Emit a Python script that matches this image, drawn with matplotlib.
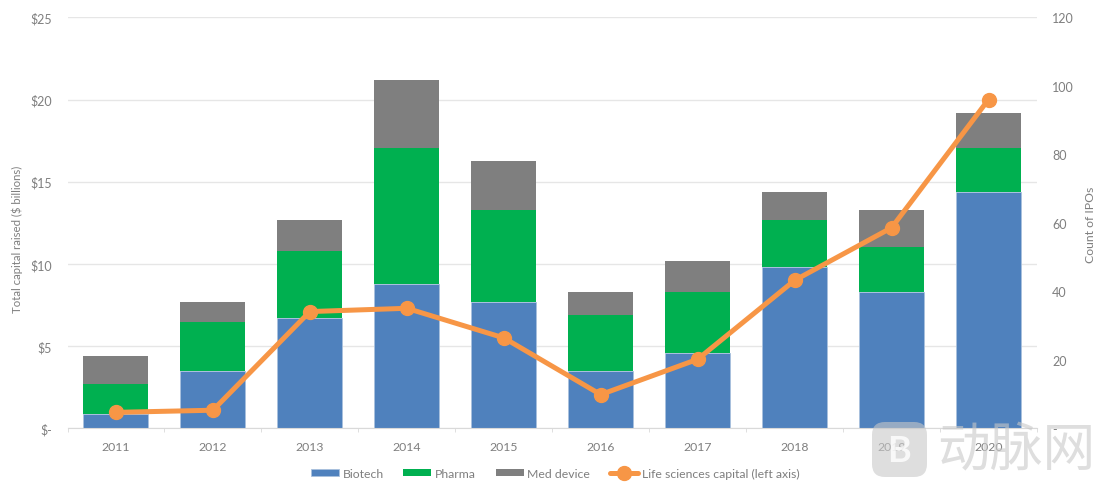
# Life sciences IPO capital, stacked bars with line overlay
import matplotlib.pyplot as plt
from matplotlib.patches import FancyBboxPatch

plt.rcParams['font.family'] = ['Lato', 'DejaVu Sans']

years = ['2011', '2012', '2013', '2014', '2015', '2016', '2017', '2018', '2019', '2020']
biotech = [0.85, 3.5, 6.7, 8.75, 7.7, 3.5, 4.6, 9.8, 8.3, 14.35]
pharma = [1.85, 2.95, 4.1, 8.3, 5.6, 3.4, 3.7, 2.85, 2.7, 2.7]
med_device = [1.7, 1.25, 1.85, 4.15, 2.95, 1.4, 1.9, 1.7, 2.3, 2.1]
capital = [0.97, 1.1, 7.1, 7.3, 5.5, 2.05, 4.2, 9.0, 12.2, 20.0]

left_ticks = [0, 5, 10, 15, 20, 25]
left_labels = ['$-', '$5', '$10', '$15', '$20', '$25']
right_ticks = [0, 20, 40, 60, 80, 100, 120]
right_labels = ['-', '20', '40', '60', '80', '100', '120']

W, H = 1101, 489
text_col = '#7f7f7f'

fig = plt.figure(figsize=(W/100, H/100), dpi=100)
ax = fig.add_axes([67.5/W, 1-429.3/H, (1037-67.5)/W, (429.3-18.3)/H])
x = list(range(len(years)))

bottom2 = [b for b in biotech]
bottom3 = [b+p for b, p in zip(biotech, pharma)]
edge = dict(edgecolor='#a9c1de', linewidth=0.6)
ax.bar(x, biotech, 0.67, color='#4f81bd', label='Biotech', zorder=2, **edge)
ax.bar(x, pharma, 0.67, bottom=bottom2, color='#00b050', label='Pharma', zorder=2)
ax.bar(x, med_device, 0.67, bottom=bottom3, color='#7f7f7f', label='Med device', zorder=2)
ax.plot(x, capital, color='#f79646', lw=3.6, marker='o', ms=10, zorder=3,
        label='Life sciences capital (left axis)', solid_capstyle='round')

ax.set_xlim(-0.5, 9.5)
ax.set_ylim(0, 25)
ax.set_yticks(left_ticks, left_labels)
ax.set_xticks(x, years)
ax.set_xticks([i-0.5 for i in range(11)], minor=True)
ax.grid(axis='y', color='#e6e6e6', lw=1, zorder=0)
ax.set_axisbelow(True)
for s in ['top', 'left', 'right']:
    ax.spines[s].set_visible(False)
ax.spines['bottom'].set_color('#d9d9d9')
ax.tick_params(axis='y', length=0, labelsize=9, labelcolor=text_col, pad=11)
ax.tick_params(axis='x', which='major', length=0, labelsize=8.8, labelcolor=text_col, pad=9.5)
ax.tick_params(axis='x', which='minor', length=3, color='#d9d9d9')
ax.set_ylabel('Total capital raised ($ billions)', fontsize=8.2, color=text_col)
ax.yaxis.set_label_coords((23-67.5)/(1037-67.5), 0.5-(239-223.8)/411)

ax2 = ax.twinx()
ax2.set_ylim(0, 120)
ax2.set_yticks(right_ticks, right_labels)
for s in ax2.spines.values():
    s.set_visible(False)
ax2.tick_params(axis='y', length=0, labelsize=9, labelcolor=text_col, pad=11)
ax2.set_ylabel('Count of IPOs', fontsize=8.8, color=text_col)
ax2.yaxis.set_label_coords((1085-67.5)/(1037-67.5), 0.5-(225-223.8)/411)

# bars first, then the line, same order as the original legend
handles, labels = ax.get_legend_handles_labels()
order = [labels.index(n) for n in ['Biotech', 'Pharma', 'Med device', 'Life sciences capital (left axis)']]
fig.legend([handles[i] for i in order], [labels[i] for i in order], loc='center',
           bbox_to_anchor=(555/W, 1-474/H), ncol=4, frameon=False, fontsize=8.8, labelcolor=text_col,
           handlelength=2.3, handleheight=0.5, handletextpad=0.3, columnspacing=1.6)

# watermark
ov = fig.add_axes([0, 0, 1, 1], facecolor='none', zorder=5)
ov.set_xlim(0, W)
ov.set_ylim(H, 0)
ov.axis('off')
ov.add_patch(FancyBboxPatch((872, 423), 55, 55, boxstyle='round,pad=0,rounding_size=13',
                            fc='#c8c8c8', ec='none', alpha=0.6))
ov.text(899, 451, 'B', color='white', fontsize=26, fontweight='bold', ha='center', va='center', alpha=0.8)
ov.text(1016, 451, '动脉网', color='#c8c8c8', alpha=0.6, fontsize=38, ha='center', va='center',
        family=['Noto Sans CJK SC', 'DejaVu Sans'])

fig.savefig('out.png', dpi=100)
